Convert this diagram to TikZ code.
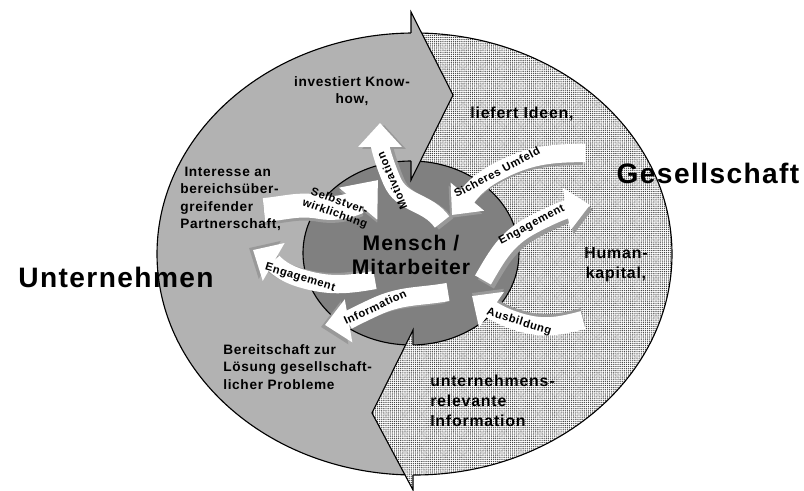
\documentclass[tikz,border=0pt]{standalone}
\usepackage{fontspec}
\setmainfont{Liberation Sans}[LetterSpace=5]
\usetikzlibrary{arrows.meta,patterns.meta}

\definecolor{ringgray}{gray}{0.70}
\definecolor{coregray}{gray}{0.50}
\definecolor{shadegray}{gray}{0.60}

\tikzset{
  ring/.style={line width=0.8pt},
  dotfill/.style={pattern={Dots[distance=1.5pt,radius=0.5pt]}, pattern color=black!75},
  band/.style={white, line width=13pt, -{Triangle[width=30pt,length=17pt]}},
  bandshade/.style={band, shadegray},
  wideband/.style={white, line width=17pt, -{Triangle[width=34pt,length=22pt]}},
  wideshade/.style={wideband, shadegray},
  lbl/.style={font=\bfseries\fontsize{8}{9}\selectfont, inner sep=0pt},
  ringtext/.style={font=\bfseries\fontsize{9.7}{12.4}\selectfont, align=left, inner sep=0pt},
  bigring/.style={font=\bfseries\fontsize{11.3}{14}\selectfont, align=left, inner sep=0pt},
  coretext/.style={font=\bfseries\fontsize{15}{17}\selectfont, align=center, inner sep=0pt},
  bigtext/.style={font=\bfseries\fontsize{20}{24}\selectfont, inner sep=0pt}
}

\begin{document}
\begin{tikzpicture}[x=0.025cm, y=0.025cm]
\useasboundingbox (0,0) rectangle (804,-491);

% outer ring: right half dotted, left half solid
\fill[white] (414.5,-254) ellipse [x radius=257.5, y radius=221];
\fill[dotfill] (414.5,-254) ellipse [x radius=257.5, y radius=221];
\begin{scope}
  \clip (0,0) rectangle (411,-491);
  \fill[ringgray] (414.5,-254) ellipse [x radius=257.5, y radius=221];
\end{scope}
\draw[ring] (414.5,-254) ellipse [x radius=257.5, y radius=221];

% core
\fill[coregray] (411,-253) ellipse [x radius=108, y radius=92];
\draw[ring] (411,-253) ellipse [x radius=108, y radius=92];

% big arrow heads
\fill[ringgray] (411,-12) -- (453,-95) -- (411,-180) -- cycle;
\draw[ring] (411,-33) -- (411,-12) -- (453,-95) -- (411,-180) -- (411,-161);
\fill[white] (413,-330) -- (372,-413) -- (413,-490) -- cycle;
\fill[dotfill] (413,-330) -- (372,-413) -- (413,-490) -- cycle;
\draw[ring] (413,-345) -- (413,-330) -- (372,-413) -- (413,-490) -- (413,-475);

% small arrows round the core
\coordinate (motT) at (442,-222);
\coordinate (motM) at (392,-181);
\coordinate (motH) at (380,-123);
\coordinate (selT) at (264,-210);
\coordinate (selM) at (320,-207);
\coordinate (selH) at (378,-180);
\coordinate (sicT) at (585,-153);
\coordinate (sicM) at (497,-172);
\coordinate (sicH) at (452,-215);
\coordinate (engrT) at (483,-280);
\coordinate (engrM) at (532,-225);
\coordinate (engrH) at (590,-205);
\coordinate (ausT) at (583,-320);
\coordinate (ausM) at (519,-322);
\coordinate (ausH) at (472,-296);
\coordinate (infT) at (448,-292);
\coordinate (infM) at (375,-307);
\coordinate (infH) at (325,-325);
\coordinate (englT) at (375,-280);
\coordinate (englM) at (300,-278);
\coordinate (englH) at (253,-250);

\draw[bandshade, transform canvas={shift={(4,-2)}}] (motT) to[out=125,in=-67] (motM) to[out=113,in=-90] (motH);
\draw[band] (motT) to[out=125,in=-67] (motM) to[out=113,in=-90] (motH);
\draw[wideshade, transform canvas={shift={(0,-3)}}] (selT) to[out=5,in=170] (selM) to[out=-10,in=230] (selH);
\draw[wideband] (selT) to[out=5,in=170] (selM) to[out=-10,in=230] (selH);
\draw[bandshade, transform canvas={shift={(-2,-3)}}] (sicT) to[out=180,in=28] (sicM) to[out=208,in=50] (sicH);
\draw[band] (sicT) to[out=180,in=28] (sicM) to[out=208,in=50] (sicH);
\draw[bandshade, transform canvas={shift={(3,-4)}}] (engrT) to[out=60,in=208] (engrM) to[out=28,in=190] (engrH);
\draw[band] (engrT) to[out=60,in=208] (engrM) to[out=28,in=190] (engrH);
\draw[bandshade, transform canvas={shift={(0,3)}}] (ausT) to[out=195,in=-17] (ausM) to[out=163,in=-35] (ausH);
\draw[band] (ausT) to[out=195,in=-17] (ausM) to[out=163,in=-35] (ausH);
\draw[bandshade, transform canvas={shift={(-4,-2)}}] (infT) to[out=190,in=25] (infM) to[out=205,in=10] (infH);
\draw[band] (infT) to[out=190,in=25] (infM) to[out=205,in=10] (infH);
\draw[bandshade, transform canvas={shift={(-4,2)}}] (englT) to[out=190,in=-17] (englM) to[out=163,in=-30] (englH);
\draw[band] (englT) to[out=190,in=-17] (englM) to[out=163,in=-30] (englH);

% arrow labels
\node[lbl, rotate=113] (motL) at (392,-181) {Motivation};
\node[lbl, rotate=-20, align=center] (selL) at (337,-208) {Selbstver-\\wirklichung};
\node[lbl, rotate=28] (sicL) at (497,-172) {Sicheres Umfeld};
\node[lbl, rotate=28] (engrL) at (532,-225) {Engagement};
\node[lbl, rotate=-17] (ausL) at (519,-322) {Ausbildung};
\node[lbl, rotate=25] (infL) at (375,-307) {Information};
\node[lbl, rotate=-17] (englL) at (300,-278) {Engagement};

% ring texts
\node[ringtext, align=center] (knowT) at (352,-91) {investiert Know-\\how,};
\node[bigring] (ideaT) at (522,-114) {liefert Ideen,};
\node[ringtext, anchor=west] (partT) at (180,-199) {\hspace*{3pt}Interesse an\\bereichsüber-\\greifender\\Partnerschaft,};
\node[ringtext, anchor=west] (solT) at (223,-367) {Bereitschaft zur\\Lösung gesellschaft-\\licher Probleme};
\node[bigring, align=center] (humT) at (616,-265) {Human-\\kapital,};
\node[bigring, anchor=west] (infoT) at (430,-401) {unternehmens-\\relevante\\Information};

% centre and sides
\node[coretext] (coreT) at (411,-255) {Mensch /\\Mitarbeiter};
\node[bigtext] (firmT) at (116,-277) {Unternehmen};
\node[bigtext] (socT) at (708,-173) {Gesellschaft};
\end{tikzpicture}
\end{document}
